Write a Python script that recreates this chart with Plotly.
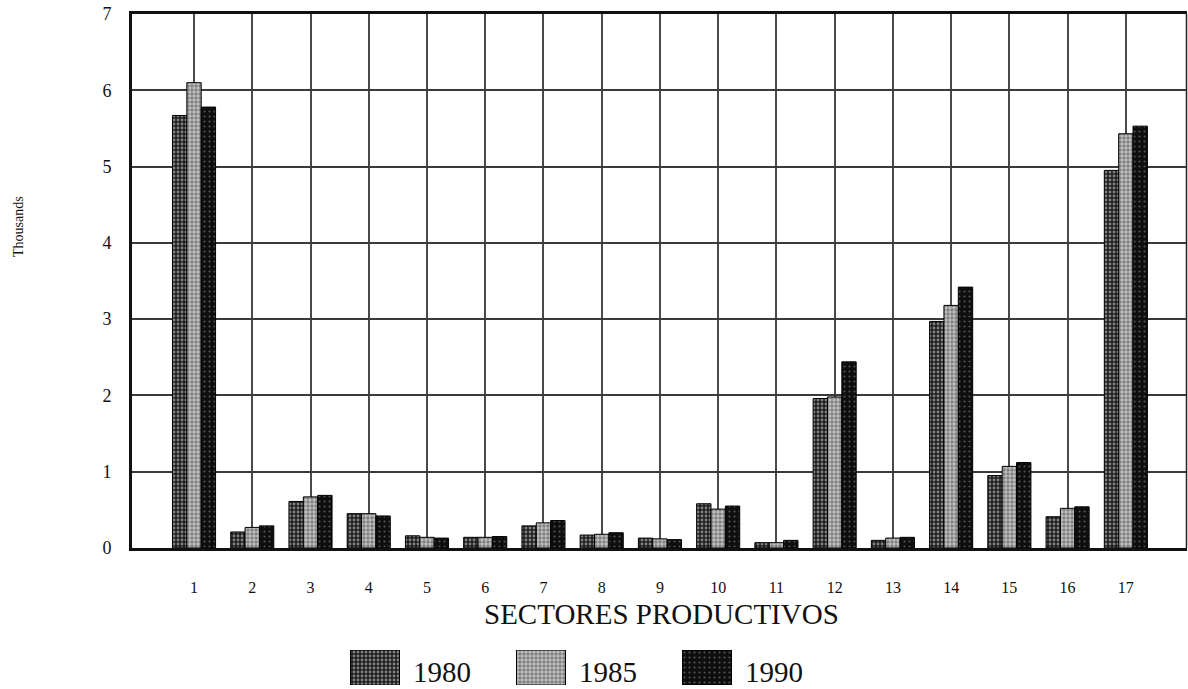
import plotly.graph_objects as go

# Productive sectors 1..17, values in thousands
sectors = list(range(1, 18))
years = ["1980", "1985", "1990"]
v1980 = [5.67, 0.21, 0.61, 0.45, 0.16, 0.14, 0.29, 0.17, 0.13, 0.58, 0.07, 1.96, 0.10, 2.97, 0.95, 0.41, 4.95]
v1985 = [6.10, 0.27, 0.67, 0.45, 0.14, 0.14, 0.33, 0.18, 0.12, 0.51, 0.07, 1.98, 0.13, 3.18, 1.07, 0.52, 5.43]
v1990 = [5.78, 0.29, 0.69, 0.42, 0.13, 0.15, 0.36, 0.20, 0.11, 0.55, 0.10, 2.44, 0.14, 3.42, 1.12, 0.54, 5.53]
y_ticks = [0, 1, 2, 3, 4, 5, 6, 7]

W, H = 1188, 689
FONT = "Liberation Serif"

# halftone-like fills for each year
patterns = {
    "1980": dict(shape=".", bgcolor="#1e1e1e", fgcolor="#e6e6e6", size=4, solidity=0.40),
    "1985": dict(shape=".", bgcolor="#7a7a7a", fgcolor="#ffffff", size=4, solidity=0.58),
    "1990": dict(shape=".", bgcolor="#0e0e0e", fgcolor="#9a9a9a", size=5, solidity=0.14),
}
series = {"1980": v1980, "1985": v1985, "1990": v1990}

fig = go.Figure()
for yr in years:
    fig.add_trace(go.Bar(
        x=sectors, y=series[yr], name=yr,
        marker=dict(color="#222", pattern=patterns[yr],
                    line=dict(color="#000", width=1)),
        xaxis="x", yaxis="y", showlegend=False,
    ))

# legend swatches drawn as bars on a small hidden axis
for i, yr in enumerate(years):
    fig.add_trace(go.Bar(
        x=[i], y=[1], width=0.295,
        marker=dict(color="#222", pattern=patterns[yr],
                    line=dict(color="#000", width=1)),
        xaxis="x2", yaxis="y2", showlegend=False, hoverinfo="skip",
    ))

px = lambda v: v / W
py = lambda v: (H - v) / H

fig.update_layout(
    width=W, height=H,
    margin=dict(l=0, r=0, t=0, b=0, pad=0, autoexpand=False),
    paper_bgcolor="white", plot_bgcolor="white",
    barmode="group", bargap=0.26, bargroupgap=0,
    font=dict(family=FONT, color="#111"),
    xaxis=dict(
        domain=[px(132), px(1187)], range=[-0.065, 18.05],
        tickmode="array", tickvals=sectors, ticktext=[str(s) for s in sectors],
        tickfont=dict(size=16, family=FONT, color="#111"),
        ticks="", ticklabelstandoff=23, automargin=False,
        showgrid=True, gridcolor="#4a4a4a", gridwidth=1.5,
        zeroline=False,
        showline=True, linecolor="#111", linewidth=3, mirror=True,
    ),
    yaxis=dict(
        domain=[py(548), py(14)], range=[0, 7],
        tickmode="array", tickvals=y_ticks,
        tickfont=dict(size=18, family=FONT, color="#111"),
        ticks="", ticklabelstandoff=14, automargin=False,
        showgrid=True, gridcolor="#3a3a3a", gridwidth=1.8,
        zeroline=False,
        showline=True, linecolor="#111", linewidth=3,
    ),
    xaxis2=dict(
        domain=[px(292), px(790)], range=[-0.5, 2.5], anchor="y2",
        visible=False, fixedrange=True, automargin=False,
    ),
    yaxis2=dict(
        domain=[py(685), py(650)], range=[0, 1], anchor="x2",
        visible=False, fixedrange=True, automargin=False,
    ),
    shapes=[
        dict(type="line", xref="paper", yref="paper",
             x0=px(1186.5), x1=px(1186.5), y0=py(548), y1=py(14),
             line=dict(color="#222", width=1.5)),
    ],
    annotations=[
        dict(text="SECTORES PRODUCTIVOS", xref="paper", yref="paper",
             x=px(661), y=py(614), xanchor="center", yanchor="middle",
             showarrow=False, font=dict(size=29, family=FONT, color="#111")),
        dict(text="Thousands", xref="paper", yref="paper",
             x=px(18), y=py(227), xanchor="center", yanchor="middle",
             textangle=-90, showarrow=False,
             font=dict(size=14, family=FONT, color="#111")),
    ] + [
        dict(text=yr, xref="x2", yref="y2", x=i + 0.215, y=0.38,
             xanchor="left", yanchor="middle", showarrow=False,
             font=dict(size=29, family=FONT, color="#111"))
        for i, yr in enumerate(years)
    ],
)

fig.write_html("out.html")
